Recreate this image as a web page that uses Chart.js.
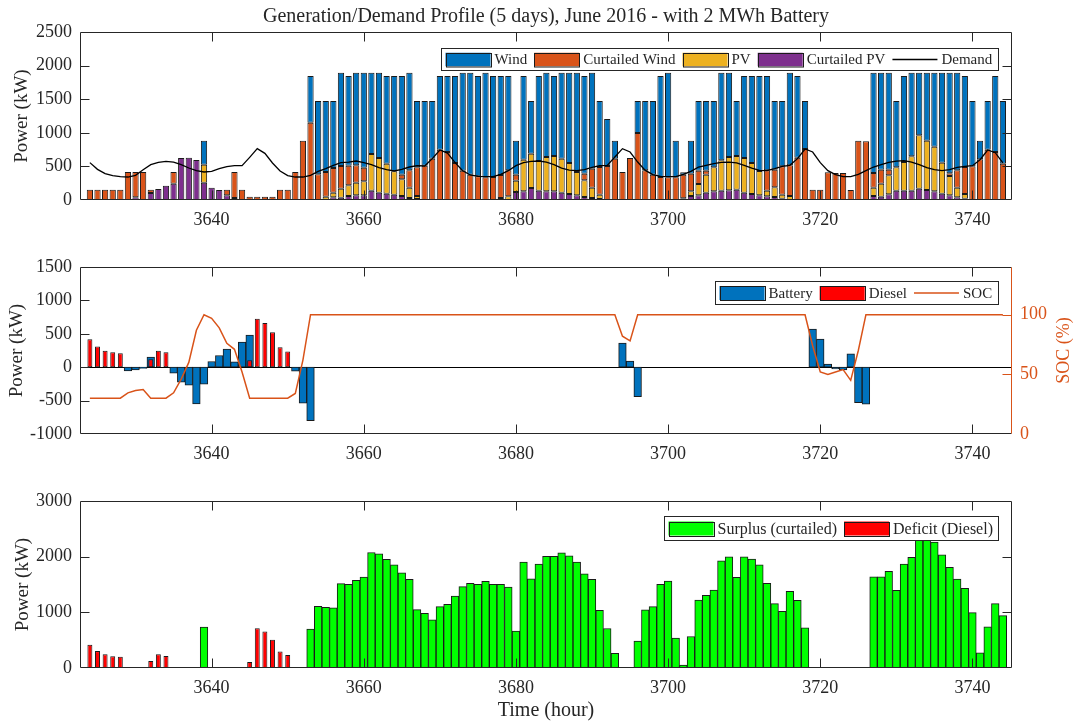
<!DOCTYPE html>
<html>
<head>
<meta charset="utf-8">
<script src="https://cdn.jsdelivr.net/npm/chart.js@4.4.1/dist/chart.umd.min.js"></script>
<style>
  body { margin: 0; background: #fff; width: 1081px; height: 723px; position: relative; overflow: hidden; }
  canvas { position: absolute; left: 0; }
</style>
</head>
<body>
<canvas id="genChart" width="1081" height="232" style="top:0px"></canvas>
<canvas id="batChart" width="1081" height="234" style="top:232px"></canvas>
<canvas id="balChart" width="1081" height="257" style="top:466px"></canvas>
<script>
// hourly samples, 3624 .. 3744
const hours = [
  3624, 3625, 3626, 3627, 3628, 3629, 3630, 3631, 3632, 3633,
  3634, 3635, 3636, 3637, 3638, 3639, 3640, 3641, 3642, 3643,
  3644, 3645, 3646, 3647, 3648, 3649, 3650, 3651, 3652, 3653,
  3654, 3655, 3656, 3657, 3658, 3659, 3660, 3661, 3662, 3663,
  3664, 3665, 3666, 3667, 3668, 3669, 3670, 3671, 3672, 3673,
  3674, 3675, 3676, 3677, 3678, 3679, 3680, 3681, 3682, 3683,
  3684, 3685, 3686, 3687, 3688, 3689, 3690, 3691, 3692, 3693,
  3694, 3695, 3696, 3697, 3698, 3699, 3700, 3701, 3702, 3703,
  3704, 3705, 3706, 3707, 3708, 3709, 3710, 3711, 3712, 3713,
  3714, 3715, 3716, 3717, 3718, 3719, 3720, 3721, 3722, 3723,
  3724, 3725, 3726, 3727, 3728, 3729, 3730, 3731, 3732, 3733,
  3734, 3735, 3736, 3737, 3738, 3739, 3740, 3741, 3742, 3743,
  3744
];
const xTicks = [3640, 3660, 3680, 3700, 3720, 3740];

// top panel, stacked segments (kW)
const curtailedPV = [
  0, 0, 0, 0, 0, 0, 40, 0, 104, 164,
  213, 243, 625, 630, 595, 258, 184, 149, 69, 30,
  0, 0, 0, 0, 0, 0, 0, 0, 0, 0,
  0, 0, 40, 35, 60, 69, 69, 139, 109, 94,
  79, 60, 30, 15, 0, 0, 0, 0, 0, 0,
  0, 0, 0, 0, 0, 0, 119, 129, 179, 139,
  129, 129, 109, 89, 69, 45, 30, 15, 0, 0,
  0, 0, 0, 0, 0, 0, 0, 0, 25, 60,
  69, 109, 129, 139, 144, 154, 109, 89, 69, 55,
  45, 20, 0, 0, 0, 0, 0, 0, 0, 0,
  0, 0, 0, 60, 50, 84, 139, 139, 139, 169,
  149, 129, 94, 69, 40, 20, 0, 0, 0, 0,
  0
];
const pv = [
  0, 0, 0, 0, 0, 0, 0, 0, 0, 0,
  0, 0, 0, 0, 0, 268, 0, 0, 0, 0,
  0, 0, 0, 0, 0, 0, 0, 0, 0, 0,
  0, 50, 69, 134, 158, 189, 209, 545, 516, 447,
  348, 248, 154, 45, 0, 0, 0, 0, 0, 0,
  0, 0, 0, 0, 30, 55, 169, 471, 510, 441,
  511, 526, 506, 462, 348, 248, 154, 64, 0, 0,
  0, 0, 0, 0, 0, 0, 0, 0, 0, 69,
  169, 268, 357, 451, 496, 501, 516, 462, 363, 84,
  143, 59, 60, 0, 0, 0, 0, 0, 0, 0,
  0, 0, 0, 124, 193, 283, 347, 426, 511, 793,
  734, 665, 462, 288, 144, 69, 0, 0, 0, 0,
  0
];
const curtailedWind = [
  154, 154, 154, 154, 154, 417, 377, 417, 50, 0,
  0, 174, 0, 0, 0, 0, 0, 0, 85, 387,
  154, 50, 50, 50, 50, 154, 154, 417, 883, 1151,
  382, 367, 367, 337, 293, 258, 203, 0, 0, 0,
  0, 69, 257, 426, 511, 615, 749, 714, 551, 436,
  377, 352, 337, 342, 342, 386, 89, 0, 0, 0,
  0, 0, 0, 0, 0, 99, 282, 412, 506, 615,
  417, 625, 997, 441, 377, 342, 337, 337, 352, 263,
  198, 59, 0, 0, 0, 0, 0, 0, 0, 302,
  263, 422, 456, 630, 759, 154, 154, 412, 402, 402,
  149, 883, 873, 218, 208, 84, 0, 0, 0, 0,
  0, 0, 0, 40, 257, 402, 501, 605, 749, 714,
  541
];
const wind = [
  0, 0, 0, 0, 0, 0, 0, 0, 0, 0,
  0, 0, 0, 0, 0, 357, 0, 0, 0, 0,
  0, 0, 0, 0, 0, 0, 0, 0, 0, 694,
  1091, 1056, 997, 1389, 1334, 1379, 1414, 1211, 1270, 1304,
  1418, 1468, 1454, 987, 962, 858, 1096, 1131, 1294, 1459,
  1518, 1493, 1558, 1503, 1473, 1404, 506, 1245, 784, 1265,
  1255, 1190, 1280, 1344, 1478, 1453, 1429, 982, 699, 268,
  0, 0, 476, 1032, 1096, 1503, 1558, 546, 35, 491,
  1037, 1037, 987, 1305, 1255, 818, 1220, 1294, 1413, 1404,
  1022, 972, 1379, 1215, 714, 0, 0, 0, 0, 0,
  0, 0, 0, 1493, 1444, 1444, 987, 1280, 1245, 933,
  1012, 1101, 1339, 1498, 1454, 1354, 972, 278, 724, 1131,
  932
];
const demand = [
  556, 456, 392, 362, 347, 342, 367, 451, 526, 560,
  575, 565, 526, 476, 436, 417, 427, 466, 496, 511,
  511, 635, 764, 694, 551, 432, 362, 342, 342, 367,
  427, 466, 516, 556, 565, 580, 556, 526, 481, 451,
  432, 456, 491, 511, 506, 615, 744, 699, 556, 436,
  372, 352, 347, 347, 382, 436, 511, 556, 575, 580,
  565, 526, 476, 446, 436, 451, 486, 511, 516, 640,
  764, 714, 565, 441, 377, 352, 347, 347, 382, 427,
  491, 516, 541, 560, 565, 551, 516, 476, 441, 436,
  466, 501, 516, 615, 759, 714, 556, 436, 377, 347,
  347, 382, 436, 491, 526, 560, 580, 585, 565, 526,
  481, 451, 436, 451, 486, 501, 511, 600, 744, 704,
  551
];

// middle panel (kW, %)
const battery = [
  0, 0, 0, 0, 0, -55, -40, -20, 150, 0,
  0, -90, -225, -270, -550, -255, 85, 175, 270, 80,
  375, 480, 0, 0, 0, 0, 0, -60, -540, -800,
  0, 0, 0, 0, 0, 0, 0, 0, 0, 0,
  0, 0, 0, 0, 0, 0, 0, 0, 0, 0,
  0, 0, 0, 0, 0, 0, 0, 0, 0, 0,
  0, 0, 0, 0, 0, 0, 0, 0, 0, 0,
  360, 90, -440, 0, 0, 0, 0, 0, 0, 0,
  0, 0, 0, 0, 0, 0, 0, 0, 0, 0,
  0, 0, 0, 0, 0, 570, 420, 45, -25, -40,
  200, -530, -555, 0, 0, 0, 0, 0, 0, 0,
  0, 0, 0, 0, 0, 0, 0, 0, 0, 0,
  0
];
const diesel = [
  420, 310, 245, 225, 210, 0, 0, 0, 120, 245,
  225, 0, 0, 0, 0, 0, 0, 0, 0, 0,
  0, 105, 725, 660, 525, 300, 235, 0, 0, 0,
  0, 0, 0, 0, 0, 0, 0, 0, 0, 0,
  0, 0, 0, 0, 0, 0, 0, 0, 0, 0,
  0, 0, 0, 0, 0, 0, 0, 0, 0, 0,
  0, 0, 0, 0, 0, 0, 0, 0, 0, 0,
  0, 0, 0, 0, 0, 0, 0, 0, 0, 0,
  0, 0, 0, 0, 0, 0, 0, 0, 0, 0,
  0, 0, 0, 0, 0, 0, 0, 0, 0, 0,
  0, 0, 0, 0, 0, 0, 0, 0, 0, 0,
  0, 0, 0, 0, 0, 0, 0, 0, 0, 0,
  0
];
const soc = [
  30, 30, 30, 30, 30, 34.5, 36.5, 37.3, 30, 30,
  30, 34.5, 46, 60, 87, 100, 97, 89, 76, 71,
  52, 30, 30, 30, 30, 30, 30, 34, 62, 100,
  100, 100, 100, 100, 100, 100, 100, 100, 100, 100,
  100, 100, 100, 100, 100, 100, 100, 100, 100, 100,
  100, 100, 100, 100, 100, 100, 100, 100, 100, 100,
  100, 100, 100, 100, 100, 100, 100, 100, 100, 100,
  82, 78, 100, 100, 100, 100, 100, 100, 100, 100,
  100, 100, 100, 100, 100, 100, 100, 100, 100, 100,
  100, 100, 100, 100, 100, 74, 52, 50, 52, 54,
  45, 70, 100, 100, 100, 100, 100, 100, 100, 100,
  100, 100, 100, 100, 100, 100, 100, 100, 100, 100,
  100
];

// bottom panel (kW)
const surplus = [
  0, 0, 0, 0, 0, 0, 0, 0, 0, 0,
  0, 0, 0, 0, 0, 733, 0, 0, 0, 0,
  0, 0, 0, 0, 0, 0, 0, 0, 0, 698,
  1109, 1091, 1079, 1515, 1503, 1574, 1634, 2075, 2051, 1950,
  1855, 1711, 1592, 1049, 984, 865, 1103, 1145, 1294, 1461,
  1521, 1503, 1556, 1503, 1503, 1455, 662, 1902, 1604, 1866,
  2004, 2004, 2069, 2015, 1902, 1693, 1592, 1038, 710, 262,
  0, 0, 483, 1044, 1103, 1503, 1562, 537, 54, 566,
  1222, 1306, 1401, 1926, 1998, 1628, 1998, 1956, 1855, 1521,
  1157, 1020, 1377, 1216, 722, 0, 0, 0, 0, 0,
  0, 0, 0, 1640, 1640, 1735, 1395, 1866, 1986, 2350,
  2380, 2260, 2033, 1807, 1598, 1431, 996, 274, 739, 1157,
  942
];
const deficit = [
  417, 304, 245, 209, 203, 0, 0, 0, 125, 245,
  215, 0, 0, 0, 0, 0, 0, 0, 0, 0,
  0, 107, 716, 656, 507, 298, 233, 0, 0, 0,
  0, 0, 0, 0, 0, 0, 0, 0, 0, 0,
  0, 0, 0, 0, 0, 0, 0, 0, 0, 0,
  0, 0, 0, 0, 0, 0, 0, 0, 0, 0,
  0, 0, 0, 0, 0, 0, 0, 0, 0, 0,
  0, 0, 0, 0, 0, 0, 0, 0, 0, 0,
  0, 0, 0, 0, 0, 0, 0, 0, 0, 0,
  0, 0, 0, 0, 0, 0, 0, 0, 0, 0,
  0, 0, 0, 0, 0, 0, 0, 0, 0, 0,
  0, 0, 0, 0, 0, 0, 0, 0, 0, 0,
  0
];

const FONT = "'Liberation Serif', 'Times New Roman', serif";
const AX = '#262626';
const EDGE = '#1a1a1a';
const ORANGE = '#D95319';

Chart.defaults.font.family = FONT;
Chart.defaults.color = AX;
Chart.defaults.animation = false;

function pts(ys) {
  return hours.map((h, i) => ({ x: h, y: ys[i] }));
}

// empty bars are left out so they leave no outline stubs
function barPts(ys) {
  return hours.map((h, i) => ({ x: h, y: ys[i] === 0 ? null : ys[i] }));
}

const plainNumber = v => String(v);

// box, inward ticks, zero line and right-axis label like the MATLAB figure
const matlabAxes = {
  id: 'matlabAxes',
  beforeDatasetsDraw(chart, args, opts) {
    if (!opts.zeroLine) return;
    const { ctx, chartArea: a, scales } = chart;
    const py = Math.round(scales.y.getPixelForValue(0)) + 0.5;
    ctx.save();
    ctx.strokeStyle = '#000';
    ctx.lineWidth = 1;
    ctx.beginPath();
    ctx.moveTo(a.left, py);
    ctx.lineTo(a.right, py);
    ctx.stroke();
    ctx.restore();
  },
  afterDatasetsDraw(chart, args, opts) {
    const { ctx, chartArea: a, scales } = chart;
    const L = 9;
    const left = Math.round(a.left) + 0.5, right = Math.round(a.right) - 0.5;
    const top = Math.round(a.top) + 0.5, bottom = Math.round(a.bottom) - 0.5;
    const inner = (s, v) => v > s.min && v < s.max;
    ctx.save();
    ctx.lineWidth = 1;
    ctx.strokeStyle = AX;
    ctx.beginPath();
    scales.x.ticks.forEach(t => {
      const px = Math.round(scales.x.getPixelForValue(t.value)) + 0.5;
      ctx.moveTo(px, bottom); ctx.lineTo(px, bottom - L);
      ctx.moveTo(px, top); ctx.lineTo(px, top + L);
    });
    scales.y.ticks.forEach(t => {
      if (!inner(scales.y, t.value)) return;
      const py = Math.round(scales.y.getPixelForValue(t.value)) + 0.5;
      ctx.moveTo(left, py); ctx.lineTo(left + L, py);
      if (!scales.y2) { ctx.moveTo(right, py); ctx.lineTo(right - L, py); }
    });
    ctx.moveTo(left, bottom); ctx.lineTo(left, top);
    ctx.lineTo(right, top);
    if (!scales.y2) ctx.lineTo(right, bottom);
    ctx.moveTo(left, bottom); ctx.lineTo(right, bottom);
    ctx.stroke();

    if (scales.y2) {
      ctx.strokeStyle = ORANGE;
      ctx.beginPath();
      ctx.moveTo(right, top); ctx.lineTo(right, bottom);
      scales.y2.ticks.forEach(t => {
        if (!inner(scales.y2, t.value)) return;
        const py = Math.round(scales.y2.getPixelForValue(t.value)) + 0.5;
        ctx.moveTo(right, py); ctx.lineTo(right - L, py);
      });
      ctx.stroke();
    }
    if (opts.rightTitle) {
      ctx.translate(a.right + opts.rightTitle.offset, (a.top + a.bottom) / 2);
      ctx.rotate(-Math.PI / 2);
      ctx.font = opts.rightTitle.size + 'px ' + FONT;
      ctx.fillStyle = ORANGE;
      ctx.textAlign = 'center';
      ctx.textBaseline = 'middle';
      ctx.fillText(opts.rightTitle.text, 0, 0);
    }
    ctx.restore();
  }
};

// legend box drawn inside the axes, upper right
const boxLegend = {
  id: 'boxLegend',
  afterDraw(chart, args, o) {
    if (!o.items) return;
    const { ctx, chartArea: a } = chart;
    ctx.save();
    ctx.font = o.fontSize + 'px ' + FONT;
    const widths = o.items.map(it => ctx.measureText(it.label).width);
    const patchW = 45, patchH = o.patchH, gap1 = 4, gap2 = 7, pad1 = 4.5, pad2 = 5.5;
    let total = pad1 + pad2 + gap2 * (o.items.length - 1);
    widths.forEach(w => { total += w + patchW + gap1; });
    const x0 = Math.round(a.right - o.right - total), y0 = Math.round(a.top + o.top);
    const h = o.height;
    ctx.fillStyle = '#fff';
    ctx.fillRect(x0, y0, total, h);
    ctx.strokeStyle = AX;
    ctx.lineWidth = 1;
    ctx.strokeRect(x0 + 0.5, y0 + 0.5, Math.round(total), h);
    let x = x0 + pad1;
    const cy = y0 + h / 2 + 0.5;
    o.items.forEach((it, i) => {
      if (it.line) {
        ctx.strokeStyle = it.color;
        ctx.lineWidth = 1.5;
        ctx.beginPath();
        ctx.moveTo(x, cy); ctx.lineTo(x + patchW, cy);
        ctx.stroke();
      } else {
        ctx.fillStyle = it.color;
        ctx.fillRect(x, cy - patchH / 2, patchW, patchH);
        ctx.strokeStyle = EDGE;
        ctx.lineWidth = 1;
        ctx.strokeRect(Math.round(x) + 0.5, Math.round(cy - patchH / 2) + 0.5, patchW, patchH);
      }
      x += patchW + gap1;
      ctx.fillStyle = AX;
      ctx.textBaseline = 'middle';
      ctx.fillText(it.label, x, cy + 1);
      x += widths[i] + gap2;
    });
    ctx.restore();
  }
};

function xScale(height, stacked, title) {
  return {
    type: 'linear',
    min: 3622.7,
    max: 3745.2,
    offset: false,
    stacked: stacked,
    grid: { display: false, drawTicks: false },
    border: { display: false },
    afterBuildTicks: s => { s.ticks = xTicks.map(v => ({ value: v })); },
    afterFit: s => { s.height = height; },
    ticks: { font: { size: 18 }, padding: 9, maxRotation: 0, color: AX, callback: plainNumber },
    title: title ? { display: true, text: title, font: { size: 20 }, color: AX, padding: { top: 0, bottom: 0 } } : { display: false }
  };
}

function yScale(min, max, step, titlePad, extra) {
  return Object.assign({
    min: min,
    max: max,
    grid: { display: false, drawTicks: false },
    border: { display: false },
    afterFit: s => { s.width = 80; },
    ticks: { stepSize: step, font: { size: 18 }, padding: 8, color: AX, callback: plainNumber },
    title: { display: true, text: 'Power (kW)', font: { size: 19 }, color: AX, padding: { top: titlePad } }
  }, extra || {});
}

function barSet(label, data, color, pct, order) {
  return {
    type: 'bar',
    label: label,
    data: barPts(data),
    backgroundColor: color,
    borderColor: EDGE,
    borderWidth: 1,
    borderSkipped: false,
    barPercentage: pct,
    categoryPercentage: 1,
    order: order
  };
}

// generation / demand
new Chart(document.getElementById('genChart'), {
  type: 'bar',
  data: {
    datasets: [
      barSet('Curtailed PV', curtailedPV, '#7E2F8E', 0.82, 1),
      barSet('PV', pv, '#EDB120', 0.82, 1),
      barSet('Curtailed Wind', curtailedWind, ORANGE, 0.82, 1),
      barSet('Wind', wind, '#0072BD', 0.82, 1),
      {
        type: 'line',
        label: 'Demand',
        data: pts(demand),
        borderColor: '#000',
        borderWidth: 1.3,
        pointRadius: 0,
        tension: 0,
        stack: 'demand',
        order: 0
      }
    ]
  },
  options: {
    responsive: false,
    layout: { padding: { top: 0, right: 69, bottom: 0, left: 0 } },
    scales: {
      x: xScale(32, true),
      y: yScale(0, 2500, 500, 11, { stacked: true })
    },
    plugins: {
      legend: { display: false },
      tooltip: { enabled: false },
      title: {
        display: true,
        text: 'Generation/Demand Profile (5 days), June 2016 - with 2 MWh Battery',
        font: { size: 20, weight: 'normal' },
        color: AX,
        fullSize: false,
        padding: { top: 5, bottom: 3 }
      },
      matlabAxes: {},
      boxLegend: {
        fontSize: 15, right: 14, top: 16, height: 22, patchH: 13.5,
        items: [
          { label: 'Wind', color: '#0072BD' },
          { label: 'Curtailed Wind', color: ORANGE },
          { label: 'PV', color: '#EDB120' },
          { label: 'Curtailed PV', color: '#7E2F8E' },
          { label: 'Demand', color: '#000', line: true }
        ]
      }
    }
  },
  plugins: [matlabAxes, boxLegend]
});

// battery / diesel / SOC
new Chart(document.getElementById('batChart'), {
  type: 'bar',
  data: {
    datasets: [
      {
        type: 'line',
        label: 'SOC',
        data: pts(soc),
        yAxisID: 'y2',
        borderColor: ORANGE,
        borderWidth: 1.5,
        pointRadius: 0,
        tension: 0,
        order: 0
      },
      Object.assign(barSet('Diesel', diesel, '#FF0000', 0.65, 1), { grouped: false }),
      Object.assign(barSet('Battery', battery, '#0072BD', 1.0, 2), { grouped: false })
    ]
  },
  options: {
    responsive: false,
    layout: { padding: { top: 35, right: 0, bottom: 0, left: 0 } },
    scales: {
      x: xScale(32, false),
      y: yScale(-1000, 1500, 500, 6),
      y2: {
        position: 'right',
        min: 0,
        max: 140,
        grid: { display: false, drawTicks: false },
        border: { display: false },
        afterBuildTicks: s => { s.ticks = [0, 50, 100].map(v => ({ value: v })); },
        afterFit: s => { s.width = 69; },
        ticks: { font: { size: 18 }, padding: 8, color: ORANGE, callback: plainNumber },
        title: { display: false }
      }
    },
    plugins: {
      legend: { display: false },
      tooltip: { enabled: false },
      matlabAxes: { zeroLine: true, rightTitle: { text: 'SOC (%)', size: 18, offset: 52 } },
      boxLegend: {
        fontSize: 15, right: 14, top: 14, height: 23, patchH: 14,
        items: [
          { label: 'Battery', color: '#0072BD' },
          { label: 'Diesel', color: '#FF0000' },
          { label: 'SOC', color: ORANGE, line: true }
        ]
      }
    }
  },
  plugins: [matlabAxes, boxLegend]
});

// surplus / deficit
new Chart(document.getElementById('balChart'), {
  type: 'bar',
  data: {
    datasets: [
      Object.assign(barSet('Deficit (Diesel)', deficit, '#FF0000', 0.65, 1), { grouped: false }),
      Object.assign(barSet('Surplus (curtailed)', surplus, '#00FF00', 1.0, 2), { grouped: false })
    ]
  },
  options: {
    responsive: false,
    layout: { padding: { top: 35, right: 69, bottom: 0, left: 0 } },
    scales: {
      x: xScale(55, false, 'Time (hour)'),
      y: yScale(0, 3000, 1000, 12)
    },
    plugins: {
      legend: { display: false },
      tooltip: { enabled: false },
      matlabAxes: {},
      boxLegend: {
        fontSize: 16, right: 14, top: 15, height: 24, patchH: 14,
        items: [
          { label: 'Surplus (curtailed)', color: '#00FF00' },
          { label: 'Deficit (Diesel)', color: '#FF0000' }
        ]
      }
    }
  },
  plugins: [matlabAxes, boxLegend]
});
</script>
</body>
</html>
